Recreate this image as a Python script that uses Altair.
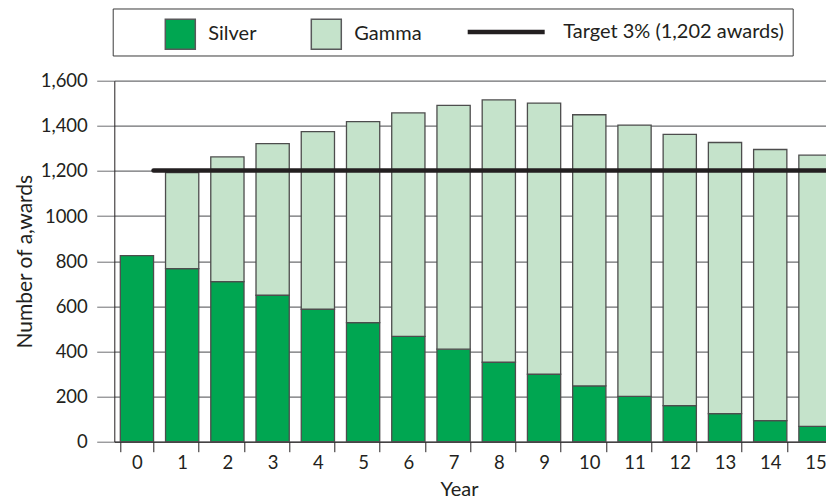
import altair as alt
import json
import pandas as pd

# ---- data ----
years = list(range(16))
silver = [825, 767, 709, 649, 587, 528, 467, 410, 352, 299, 247, 201, 160, 124, 93, 68]
gamma = [0, 426, 553, 672, 787, 891, 990, 1081, 1163, 1202, 1202, 1202, 1202, 1202, 1202, 1202]
series_names = ["Silver", "Gamma"]
series_colors = ["#00a651", "#c5e3cb"]
target_label = "Target 3% (1,202 awards)"
target_color = "#231f20"
target_value = 1202
target_from_year = 0
target_to_year = 15
y_ticks = [0, 200, 400, 600, 800, 1000, 1200, 1400, 1600]
y_tick_labels = ["0", "200", "400", "600", "800", "1000", "1,200", "1,400", "1,600"]

FONT = "Lato"
TXT = "#231f20"

rows = []
for i, y in enumerate(years):
    rows.append({"year": y, "series": series_names[0], "value": silver[i], "stack_order": 0})
    rows.append({"year": y, "series": series_names[1], "value": gamma[i], "stack_order": 1})
bars_df = pd.DataFrame(rows)
target_df = pd.DataFrame([{"series": target_label, "value": target_value,
                           "from": target_from_year, "to": target_to_year}])

bars_legend = alt.Legend(
    title=None, orient="none", legendX=50, legendY=-62.4, direction="horizontal",
    padding=0, symbolType="square", symbolSize=900,
    symbolStrokeColor="#58595b", symbolStrokeWidth=1.5,
    labelFont=FONT, labelFontSize=20, labelColor=TXT, labelOffset=12,
    columnPadding=51, labelLimit=400,
)

target_legend = alt.Legend(
    title=" ", titleOrient="left", titlePadding=344, titleFontSize=19,
    orient="none", legendX=-1.6, legendY=-72.2, direction="horizontal",
    padding=8.5, strokeColor="#3a3a3a",
    symbolType="stroke", symbolSize=5929, symbolStrokeWidth=4.5,
    symbolStrokeColor=target_color, clipHeight=30,
    labelFont=FONT, labelFontSize=20, labelColor=TXT, labelOffset=16,
    labelLimit=800, labelExpr="datum.label + '                    '",
)

label_expr = f"{json.dumps(y_tick_labels)}[indexof({json.dumps(y_ticks)}, datum.value)]"

x_axis = alt.Axis(
    title="Year", labelAngle=0, tickBand="extent", ticks=True, tickSize=10,
    tickColor=TXT, domainColor=TXT, labelFont=FONT, labelFontSize=18.5, labelColor=TXT,
    labelPadding=2, titleFont=FONT, titleFontSize=20, titleFontWeight="normal",
    titleColor=TXT, titleX=344.7, titleY=38, grid=False,
)
y_axis = alt.Axis(
    values=y_ticks, labelExpr=label_expr, tickSize=17.6, tickColor="#6d6e71",
    grid=True, gridColor="#6d6e71", gridWidth=1.2, domainColor=TXT,
    labelFont=FONT, labelFontSize=18.5, labelColor=TXT, labelPadding=9.4,
    title="Number of a,wards", titleFont=FONT, titleFontSize=21,
    titleFontWeight="normal", titleColor=TXT, titlePadding=5,
)

x_scale = alt.Scale(paddingInner=0.265, paddingOuter=0.1325)
y_scale = alt.Scale(domain=[0, 1600], nice=False)

bars = alt.Chart(bars_df).transform_filter("datum.value > 0").mark_bar(
    stroke="#4d4d4d", strokeWidth=1.3
).encode(
    x=alt.X("year:O", scale=x_scale, axis=x_axis),
    y=alt.Y("value:Q", stack="zero", scale=y_scale, axis=y_axis),
    color=alt.Color("series:N",
                    scale=alt.Scale(domain=series_names, range=series_colors),
                    legend=bars_legend),
    order=alt.Order("stack_order:Q"),
)

target = alt.Chart(target_df).mark_rule(strokeWidth=4.5, strokeCap="round").encode(
    x=alt.X("from:O", bandPosition=1, title="Year"),
    x2=alt.X2("to", bandPosition=1),
    y=alt.Y("value:Q", title="Number of a,wards"),
    stroke=alt.Stroke("series:N",
                      scale=alt.Scale(domain=[target_label], range=[target_color]),
                      legend=target_legend),
)

chart = alt.layer(bars, target).properties(
    width=723.8, height=361,
    autosize=alt.AutoSizeParams(type="none"),
    padding={"left": 106.3, "top": 72.7, "right": -12.3, "bottom": 61},
).configure(font=FONT).configure_view(strokeWidth=0)

chart.save("out.html", embed_options={"renderer": "svg", "actions": False})
